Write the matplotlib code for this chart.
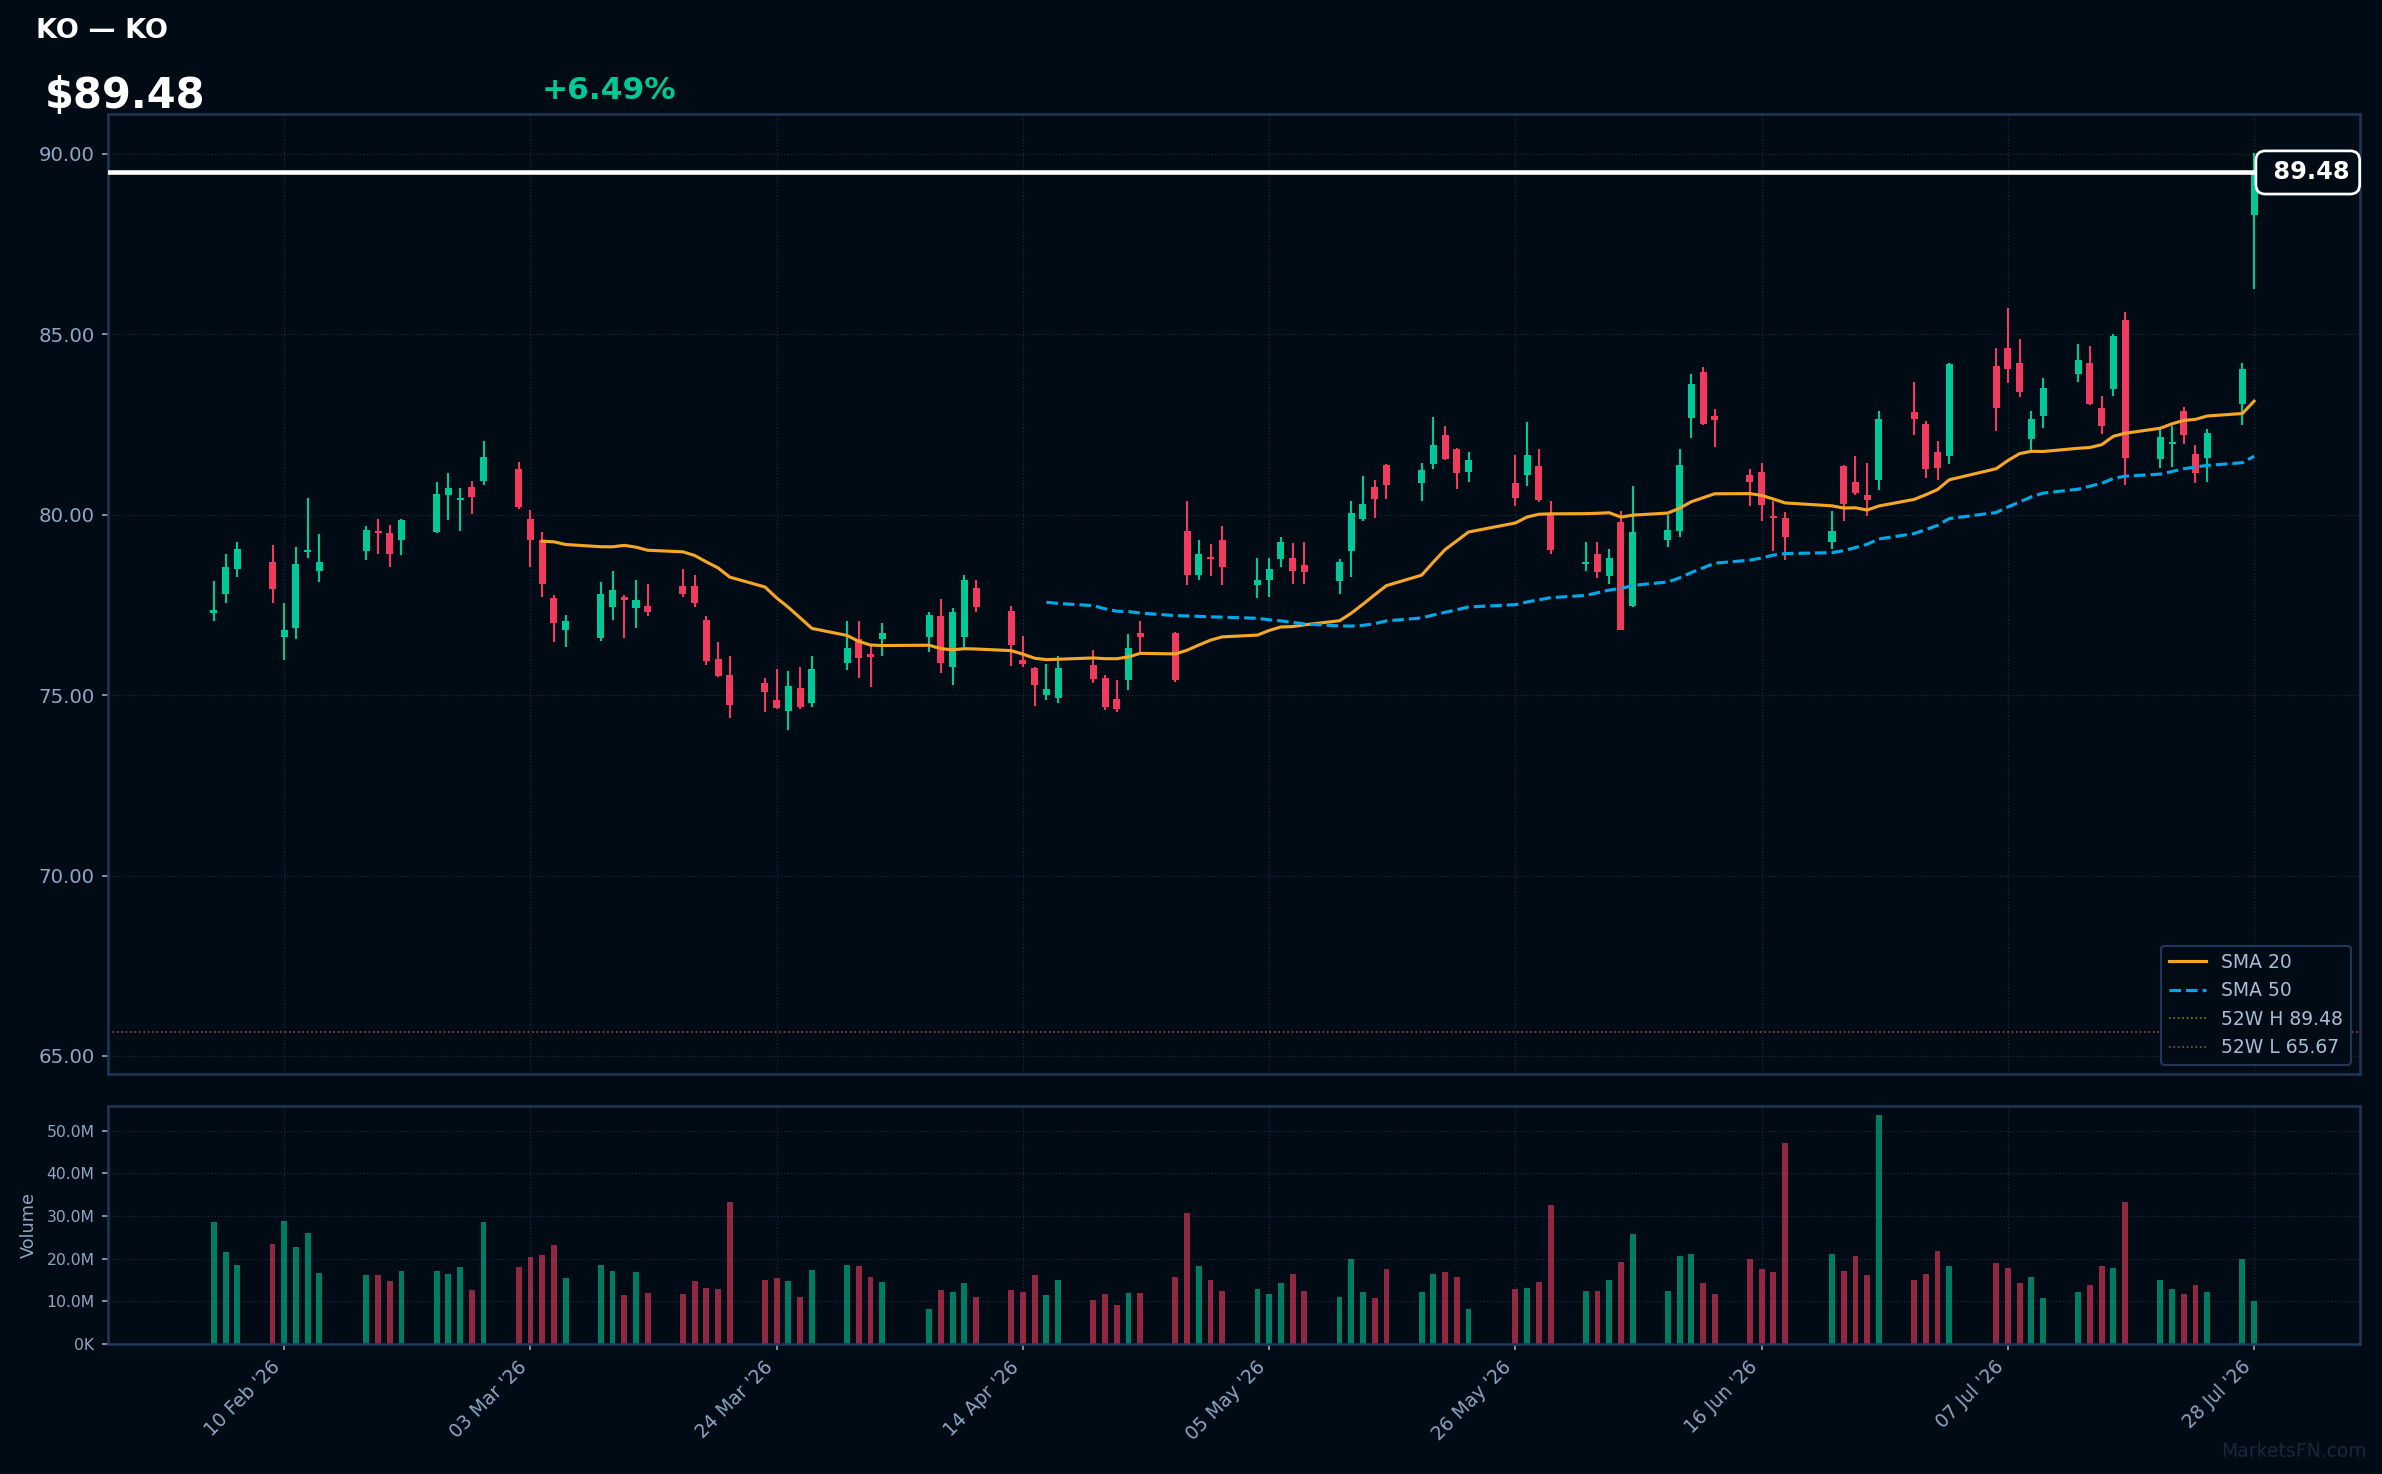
import matplotlib
matplotlib.use("Agg")
import matplotlib.pyplot as plt
import matplotlib.dates as mdates
import matplotlib.transforms as mtrans
from matplotlib.ticker import FuncFormatter
import numpy as np
import pandas as pd

# NYSE trading days shown on the chart
holidays = ["2026-02-16", "2026-04-03", "2026-05-25", "2026-06-19", "2026-07-03"]
dates = pd.bdate_range("2026-02-04", "2026-07-28", freq="C", holidays=holidays)

opens = [
    77.27, 77.81, 78.48, 78.68, 76.62, 76.87, 78.96, 78.43, 78.98, 79.51,
    79.48, 79.31, 79.51, 80.54, 80.41, 80.76, 80.93, 81.26, 79.87, 79.31,
    77.70, 76.79, 76.59, 77.45, 77.73, 77.40, 77.48, 78.01, 78.01, 77.09,
    76.01, 75.56, 75.34, 74.87, 74.56, 75.20, 74.79, 75.90, 76.54, 76.15,
    76.56, 76.62, 77.20, 75.79, 76.62, 77.98, 77.34, 75.98, 75.76, 75.01,
    74.93, 75.84, 75.48, 74.90, 75.43, 76.73, 76.73, 79.54, 78.34, 78.81,
    79.31, 78.04, 78.18, 78.76, 78.81, 78.59, 78.15, 78.98, 79.87, 80.76,
    81.37, 80.87, 81.40, 82.20, 81.81, 81.18, 80.87, 81.09, 81.34, 80.01,
    78.63, 78.90, 78.29, 79.79, 77.48, 79.29, 79.54, 82.67, 83.95, 82.73,
    81.09, 81.18, 79.95, 79.90, 79.23, 81.34, 80.90, 80.54, 80.95, 82.84,
    82.51, 81.73, 81.62, 84.12, 84.62, 84.20, 82.09, 82.73, 83.90, 84.20,
    82.95, 83.48, 85.40, 81.54, 81.95, 82.87, 81.67, 81.56, 83.06, 88.29,
]
highs = [
    78.15, 78.90, 79.23, 79.15, 77.54, 79.09, 80.45, 79.45, 79.68, 79.87,
    79.70, 79.87, 80.90, 81.15, 80.73, 80.93, 82.04, 81.45, 80.12, 79.51,
    77.76, 77.23, 78.12, 78.45, 77.76, 78.20, 78.09, 78.48, 78.34, 77.18,
    76.48, 76.09, 75.48, 75.73, 75.68, 75.79, 76.09, 77.04, 77.06, 76.40,
    77.01, 77.31, 77.65, 77.40, 78.34, 78.20, 77.48, 76.65, 75.79, 75.87,
    76.09, 76.26, 75.56, 75.43, 76.70, 77.04, 76.76, 80.37, 79.31, 79.18,
    79.68, 78.81, 78.81, 79.37, 79.20, 79.23, 78.76, 80.37, 81.06, 80.95,
    81.40, 81.43, 82.70, 82.45, 81.84, 81.73, 81.65, 82.56, 81.81, 80.37,
    79.23, 79.23, 79.06, 80.09, 80.79, 79.98, 81.81, 83.90, 84.09, 82.93,
    81.26, 81.43, 80.37, 80.06, 80.09, 81.37, 81.62, 81.43, 82.87, 83.68,
    82.59, 82.04, 84.20, 84.62, 85.73, 84.87, 82.87, 83.79, 84.73, 84.68,
    83.29, 85.01, 85.62, 82.37, 82.45, 82.98, 81.92, 82.37, 84.20, 90.01,
]
lows = [
    77.06, 77.56, 78.26, 77.54, 75.98, 76.56, 78.79, 78.12, 78.73, 78.90,
    78.56, 78.87, 79.48, 79.84, 79.54, 80.01, 80.81, 80.15, 78.54, 77.73,
    76.48, 76.34, 76.51, 77.09, 76.59, 76.87, 77.18, 77.73, 77.43, 75.84,
    75.51, 74.37, 74.54, 74.62, 74.04, 74.62, 74.68, 75.70, 75.48, 75.23,
    76.09, 76.20, 75.62, 75.29, 76.34, 77.29, 75.81, 75.79, 74.70, 74.87,
    74.79, 75.34, 74.59, 74.54, 75.15, 76.18, 75.37, 78.06, 78.18, 78.31,
    78.04, 77.70, 77.73, 78.56, 78.09, 78.09, 77.81, 78.26, 79.81, 79.90,
    80.43, 80.37, 81.26, 81.51, 80.70, 80.90, 80.23, 80.79, 80.34, 78.90,
    78.43, 78.23, 78.09, 76.79, 77.45, 79.09, 79.37, 82.12, 82.48, 81.87,
    80.23, 79.81, 78.98, 78.73, 79.04, 79.81, 80.54, 79.95, 80.67, 82.20,
    81.01, 80.95, 81.40, 82.31, 83.65, 83.26, 81.73, 82.40, 83.68, 83.04,
    82.23, 83.29, 80.81, 81.29, 81.31, 81.95, 80.87, 80.90, 82.48, 86.26,
]
closes = [
    77.37, 78.54, 79.04, 77.95, 76.81, 78.62, 79.02, 78.70, 79.56, 79.49,
    78.90, 79.84, 80.56, 80.73, 80.47, 80.48, 81.59, 80.20, 79.31, 78.09,
    77.01, 77.06, 77.81, 77.90, 77.62, 77.62, 77.31, 77.81, 77.56, 75.95,
    75.54, 74.73, 75.09, 74.65, 75.26, 74.68, 75.73, 76.29, 76.04, 76.06,
    76.73, 77.23, 75.90, 77.31, 78.20, 77.45, 76.40, 75.87, 75.29, 75.18,
    75.76, 75.45, 74.68, 74.62, 76.29, 76.62, 75.43, 78.34, 78.90, 78.77,
    78.56, 78.20, 78.48, 79.23, 78.43, 78.40, 78.68, 80.04, 80.29, 80.43,
    80.81, 81.23, 81.93, 81.54, 81.15, 81.51, 80.45, 81.65, 80.40, 79.01,
    78.67, 78.40, 78.79, 76.81, 79.51, 79.56, 81.37, 83.62, 82.51, 82.62,
    80.90, 80.26, 79.91, 79.37, 79.54, 80.29, 80.59, 80.40, 82.65, 82.65,
    81.26, 81.29, 84.18, 82.95, 84.04, 83.40, 82.65, 83.51, 84.29, 83.06,
    82.45, 84.95, 81.56, 82.15, 81.99, 82.20, 81.15, 82.26, 84.03, 89.48,
]
# volume in millions of shares
volumes_m = [
    28.5, 21.5, 18.5, 23.4, 28.8, 22.7, 26.0, 16.7, 16.2, 16.2,
    14.8, 17.1, 17.1, 16.4, 18.1, 12.7, 28.5, 18.1, 20.4, 20.8,
    23.2, 15.5, 18.5, 17.1, 11.5, 16.9, 12.0, 11.8, 14.8, 13.2,
    12.9, 33.2, 15.0, 15.5, 14.8, 11.1, 17.4, 18.5, 18.3, 15.7,
    14.6, 8.3, 12.7, 12.2, 14.3, 11.1, 12.7, 12.2, 16.2, 11.5,
    15.0, 10.2, 11.8, 9.2, 12.0, 12.0, 15.7, 30.6, 18.3, 15.0,
    12.5, 12.9, 11.8, 14.3, 16.4, 12.5, 11.1, 20.0, 12.1, 10.7,
    17.5, 12.1, 16.4, 16.8, 15.7, 8.2, 12.9, 13.2, 14.6, 32.5,
    12.5, 12.5, 15.0, 19.3, 25.7, 12.5, 20.7, 21.1, 14.3, 11.8,
    20.0, 17.5, 16.8, 47.1, 21.1, 17.1, 20.7, 16.1, 53.6, 15.0,
    16.4, 21.8, 18.2, 18.9, 17.9, 14.3, 15.7, 10.7, 12.1, 13.9,
    18.2, 17.9, 33.2, 15.0, 12.9, 11.8, 13.9, 12.1, 20.0, 10.0,
]

ticker = "KO"
last_price = 89.48
change_pct = 6.49
high_52w = 89.48
low_52w = 65.67
price_ticks = [65, 70, 75, 80, 85, 90]
volume_ticks_m = [0, 10, 20, 30, 40, 50]
date_ticks = pd.date_range("2026-02-10", "2026-07-28", freq="21D")

# colours
BG = "#010b16"
GRID = "#1a2b3e"
SPINE = "#1e3858"
TXT = "#8ea6c2"
UP = "#00c896"
DOWN = "#f23a5e"

W, H = 2382, 1474
fig = plt.figure(figsize=(W / 150, H / 150), dpi=150, facecolor=BG)
ax = fig.add_axes([108 / W, 1 - 1074 / H, (2360 - 108) / W, (1074 - 114) / H])
axv = fig.add_axes([108 / W, 1 - 1344 / H, (2360 - 108) / W, (1344 - 1106) / H], sharex=ax)

o = np.array(opens)
hi = np.array(highs)
lo = np.array(lows)
c = np.array(closes)
vol = np.array(volumes_m) * 1e6
x = mdates.date2num(dates)
colors = np.where(c >= o, UP, DOWN)

# candles
ax.vlines(x, lo, hi, colors=colors, linewidth=1.0, zorder=2)
body_bottom = np.minimum(o, c)
body_height = np.maximum(np.abs(c - o), 0.05)
ax.bar(x, body_height, bottom=body_bottom, width=0.6, color=colors, linewidth=0, zorder=3)

# moving averages and reference lines
sma20 = pd.Series(c).rolling(20).mean()
sma50 = pd.Series(c).rolling(50).mean()
ax.plot(x, sma20, color="#f5a623", lw=1.5, label="SMA 20", zorder=4)
ax.plot(x, sma50, color="#00a8e8", lw=1.5, ls="--", label="SMA 50", zorder=4)
ax.axhline(high_52w, color="#a8a028", lw=0.8, ls=":", alpha=0.8, label=f"52W H {high_52w:.2f}")
ax.axhline(low_52w, color="#c85a3a", lw=0.8, ls=":", alpha=0.8, label=f"52W L {low_52w:.2f}")
ax.axhline(last_price, color="white", lw=2.2, zorder=5)

trans = mtrans.blended_transform_factory(ax.transAxes, ax.transData)
ax.text(0.9956, last_price, f" {last_price:.2f}", transform=trans, ha="right", va="center",
        fontsize=11.5, fontweight="bold", color="white", zorder=6,
        bbox=dict(boxstyle="round,pad=0.4", fc=BG, ec="white", lw=1.3))

leg = ax.legend(loc="lower right", fontsize=9, facecolor=BG, edgecolor=SPINE,
                labelcolor="#a8bcd4", framealpha=1)
leg.get_frame().set_linewidth(1.0)

ax.set_ylim(64.50, 91.10)
ax.set_yticks(price_ticks)
ax.yaxis.set_major_formatter(FuncFormatter(lambda v, _: f"{v:.2f}"))

# volume
axv.bar(x, vol, width=0.5, color=colors, alpha=0.6, linewidth=0)
axv.set_ylim(0, 55.8e6)
axv.set_yticks([v * 1e6 for v in volume_ticks_m])
axv.yaxis.set_major_formatter(
    FuncFormatter(lambda v, _: f"{v / 1e6:.1f}M" if v >= 1e6 else f"{v / 1e3:.0f}K"))
axv.set_ylabel("Volume", color=TXT, fontsize=8.5)

axv.set_xticks(mdates.date2num(date_ticks))
axv.xaxis.set_major_formatter(mdates.DateFormatter("%d %b '%y"))
plt.setp(axv.get_xticklabels(), rotation=45, ha="right")

for a in (ax, axv):
    a.set_facecolor(BG)
    a.grid(True, color=GRID, ls=":", lw=0.6)
    a.set_axisbelow(True)
    for s in a.spines.values():
        s.set_color(SPINE)
        s.set_linewidth(1.2)
    a.tick_params(colors=TXT, length=3, width=0.8)

ax.tick_params(axis="y", labelsize=9.5)
ax.tick_params(axis="x", labelbottom=False, length=0)
axv.tick_params(axis="y", labelsize=7.5)
axv.tick_params(axis="x", labelsize=9)

# header texts
fig.text(36 / W, 1 - 38 / H, f"{ticker} — {ticker}", color="white", fontsize=13,
         fontweight="bold", va="baseline")
fig.text(45 / W, 1 - 108 / H, f"${last_price:.2f}", color="white", fontsize=20,
         fontweight="bold", va="baseline")
fig.text(542 / W, 1 - 99 / H, f"+{change_pct:.2f}%", color=UP, fontsize=15,
         fontweight="bold", va="baseline")
fig.text(2367 / W, 1 - 1457 / H, "MarketsFN.com", color="#17283b", fontsize=9,
         ha="right", va="baseline")

fig.savefig("out.png", dpi=150, facecolor=BG)
